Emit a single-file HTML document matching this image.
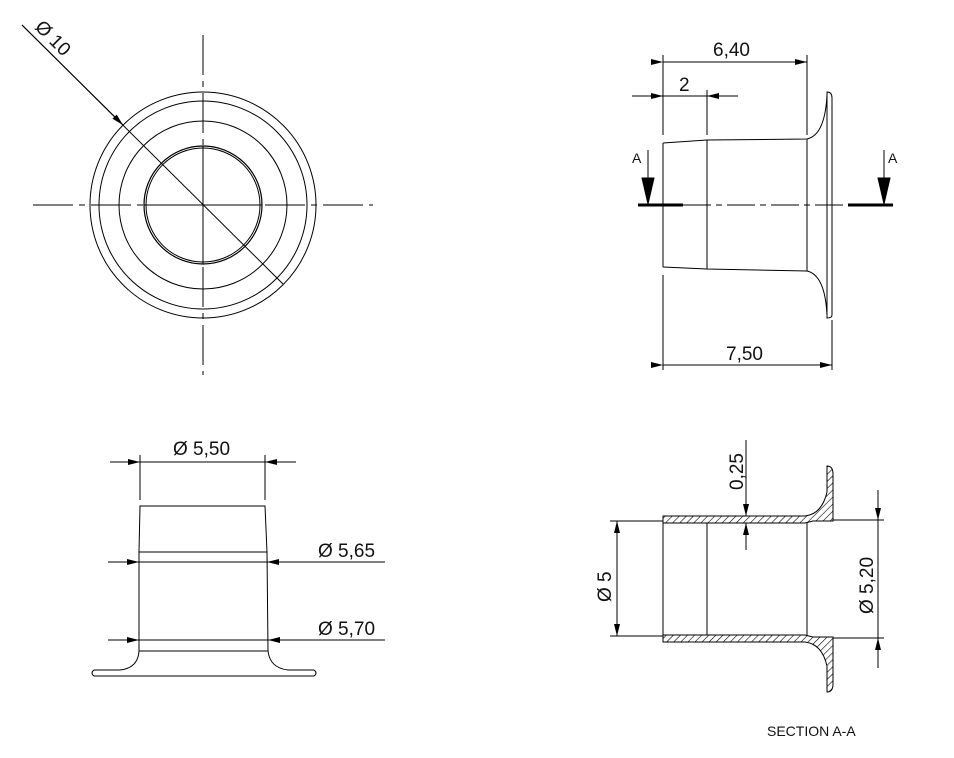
<!DOCTYPE html>
<html><head><meta charset="utf-8"><style>html,body{margin:0;padding:0;background:#fff}svg{display:block}text{font-family:"Liberation Sans","DejaVu Sans",sans-serif;fill:#111}</style></head><body>
<svg width="954" height="758" viewBox="0 0 954 758" xmlns="http://www.w3.org/2000/svg">
<defs>
<marker id="ar" viewBox="0 0 12 6" refX="12" refY="3" markerWidth="12" markerHeight="6" markerUnits="userSpaceOnUse" orient="auto"><path d="M0,0 L12,3 L0,6 z" fill="#000"/></marker>
<pattern id="h" width="5" height="5" patternUnits="userSpaceOnUse" patternTransform="rotate(45)"><line x1="0" y1="0" x2="0" y2="5" stroke="#000" stroke-width="1.2"/></pattern>
</defs>
<g fill="none" stroke="#000" stroke-width="1">
<circle cx="203" cy="205" r="113"/>
<circle cx="203" cy="205" r="104"/>
<circle cx="203" cy="205" r="84"/>
<circle cx="203" cy="205" r="59" stroke-width="1.2"/>
<circle cx="203" cy="205" r="57"/>
<line x1="33" y1="205" x2="373" y2="205" stroke-dasharray="40,6,6,6"/>
<line x1="203" y1="35" x2="203" y2="375" stroke-dasharray="40,6,6,6"/>
<line x1="144" y1="205" x2="262" y2="205"/>
<line x1="203" y1="146" x2="203" y2="264"/>
<line x1="22" y1="25" x2="283" y2="284"/>
<line x1="22" y1="25" x2="123" y2="125" marker-end="url(#ar)"/>
<path d="M663,143 L707,140 L807,139 Q825,135 827,95 M663,267 L707,269 L807,271 Q825,275 827,315"/>
<line x1="663" y1="143" x2="663" y2="267"/>
<line x1="707" y1="140" x2="707" y2="269"/>
<line x1="807" y1="139" x2="807" y2="271"/>
<path d="M827,92 Q832,92 832,98 L832,315 Q832,318 827,318 Z"/>
<line x1="683" y1="205" x2="848" y2="205" stroke-dasharray="28,5,6,5"/>
<line x1="638" y1="205" x2="683" y2="205" stroke-width="3"/>
<line x1="848" y1="205" x2="893" y2="205" stroke-width="3"/>
<line x1="648" y1="150" x2="648" y2="180"/>
<path d="M642,178 L654,178 L648,204 Z" fill="#000"/>
<line x1="884" y1="150" x2="884" y2="180"/>
<path d="M878,178 L890,178 L884,204 Z" fill="#000"/>
<line x1="663" y1="135" x2="663" y2="55"/>
<line x1="807" y1="135" x2="807" y2="55"/>
<line x1="707" y1="135" x2="707" y2="90"/>
<line x1="663" y1="62" x2="807" y2="62" marker-start="url(#ar)" marker-end="url(#ar)"/>
<line x1="632" y1="96" x2="663" y2="96" marker-end="url(#ar)"/>
<line x1="738" y1="96" x2="707" y2="96" marker-end="url(#ar)"/>
<line x1="663" y1="96" x2="707" y2="96"/>
<line x1="663" y1="275" x2="663" y2="370"/>
<line x1="832" y1="320" x2="832" y2="370"/>
<line x1="663" y1="365" x2="832" y2="365" marker-start="url(#ar)" marker-end="url(#ar)"/>
<path d="M140,506 L265,506 L267,552 L268,651 Q270,668 288,670 L314,670 Q318,673 314,676 L94,676 Q90,673 94,670 L120,670 Q138,668 139,651 L139,552 Z"/>
<line x1="139" y1="552" x2="267" y2="552"/>
<line x1="139" y1="651" x2="268" y2="651"/>
<line x1="140" y1="455" x2="140" y2="500"/>
<line x1="265" y1="455" x2="265" y2="500"/>
<line x1="110" y1="462" x2="140" y2="462" marker-end="url(#ar)"/>
<line x1="296" y1="462" x2="265" y2="462" marker-end="url(#ar)"/>
<line x1="140" y1="462" x2="265" y2="462"/>
<line x1="108" y1="562" x2="139" y2="562" marker-end="url(#ar)"/>
<line x1="385" y1="562" x2="267" y2="562" marker-end="url(#ar)"/>
<line x1="139" y1="562" x2="267" y2="562"/>
<line x1="108" y1="640" x2="139" y2="640" marker-end="url(#ar)"/>
<line x1="385" y1="640" x2="268" y2="640" marker-end="url(#ar)"/>
<line x1="139" y1="640" x2="268" y2="640"/>
<path d="M663,516 L805,516 Q822,514 827,492 L827,466 Q833,466 833,474 L833,521 L813,521 L805,523 L663,523 Z" fill="url(#h)"/>
<path d="M663,642 L805,642 Q822,644 827,666 L827,692 Q833,692 833,684 L833,637 L813,637 L805,635 L663,635 Z" fill="url(#h)"/>
<line x1="663" y1="523" x2="663" y2="635"/>
<line x1="707" y1="523" x2="707" y2="635"/>
<line x1="807" y1="523" x2="807" y2="635"/>
<line x1="610" y1="521" x2="663" y2="521"/>
<line x1="610" y1="636" x2="663" y2="636"/>
<line x1="617" y1="578" x2="617" y2="521" marker-end="url(#ar)"/>
<line x1="617" y1="578" x2="617" y2="636" marker-end="url(#ar)"/>
<line x1="833" y1="520" x2="884" y2="520"/>
<line x1="833" y1="638" x2="884" y2="638"/>
<line x1="878" y1="490" x2="878" y2="520" marker-end="url(#ar)"/>
<line x1="878" y1="668" x2="878" y2="638" marker-end="url(#ar)"/>
<line x1="878" y1="520" x2="878" y2="638"/>
<line x1="746" y1="440" x2="746" y2="516" marker-end="url(#ar)"/>
<line x1="746" y1="550" x2="746" y2="523" marker-end="url(#ar)"/>
</g>
<g font-size="19">
<text x="0" y="0" transform="translate(34,28) rotate(45)">Ø 10</text>
<text x="713" y="56">6,40</text>
<text x="679" y="91">2</text>
<text x="726" y="360">7,50</text>
<text x="173" y="455">Ø 5,50</text>
<text x="318" y="557">Ø 5,65</text>
<text x="318" y="635">Ø 5,70</text>
<text x="0" y="0" transform="translate(743,490) rotate(-90)">0,25</text>
<text x="0" y="0" transform="translate(611,602) rotate(-90)">Ø 5</text>
<text x="0" y="0" transform="translate(873,614) rotate(-90)">Ø 5,20</text>
</g>
<text x="632" y="163" font-size="14">A</text>
<text x="888" y="163" font-size="14">A</text>
<text x="767" y="736" font-size="14">SECTION A-A</text>
</svg>
</body></html>
